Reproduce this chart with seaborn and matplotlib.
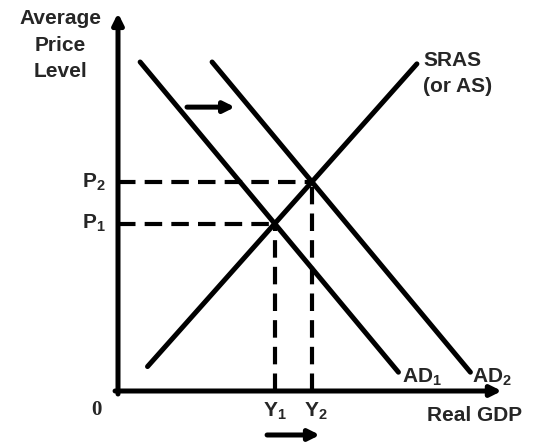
import numpy as np
import pandas as pd
import seaborn as sns
import matplotlib
matplotlib.use("Agg")
import matplotlib.pyplot as plt

# curve endpoints (quantity, price) in chart units 0-100
sras_q = [8, 81]
sras_p = [6.5, 87]
ad1_q = [6, 76]
ad1_p = [87.5, 5]
ad2_q = [25.5, 95.5]
ad2_p = [87.5, 5]

curve_names = ["SRAS", "AD1", "AD2"]


def intersect(q1, p1, q2, p2):
    m1 = (p1[1] - p1[0]) / (q1[1] - q1[0])
    m2 = (p2[1] - p2[0]) / (q2[1] - q2[0])
    b1 = p1[0] - m1 * q1[0]
    b2 = p2[0] - m2 * q2[0]
    q = (b2 - b1) / (m1 - m2)
    return q, m1 * q + b1


e1 = intersect(sras_q, sras_p, ad1_q, ad1_p)
e2 = intersect(sras_q, sras_p, ad2_q, ad2_p)

df = pd.concat([
    pd.DataFrame({"q": q, "p": p, "curve": name})
    for name, q, p in zip(curve_names, [sras_q, ad1_q, ad2_q], [sras_p, ad1_p, ad2_p])
])

sns.set_style("white")
plt.rcParams["font.family"] = ["Liberation Sans", "DejaVu Sans"]
plt.rcParams["font.weight"] = "bold"
plt.rcParams["mathtext.fontset"] = "custom"
plt.rcParams["mathtext.rm"] = "Liberation Sans:bold"
plt.rcParams["mathtext.it"] = "Liberation Sans:bold"
plt.rcParams["mathtext.bf"] = "Liberation Sans:bold"

fig = plt.figure(figsize=(5.42, 4.47), dpi=100)
ax = fig.add_axes([118 / 542, 56 / 447, 369 / 542, 376 / 447])

sns.lineplot(data=df, x="q", y="p", units="curve", estimator=None, sort=False,
             color="black", lw=3.6, ax=ax, legend=False)

# dashed guides to equilibria
for q, p in [e1, e2]:
    ax.plot([0, q], [p, p], color="black", lw=3, dashes=(4.2, 2.2))
    ax.plot([q, q], [0, p], color="black", lw=3, dashes=(4.2, 2.2))

ax.set_xlim(0, 100)
ax.set_ylim(0, 100)
ax.set_xlabel("")
ax.set_ylabel("")
ax.set_xticks([])
ax.set_yticks([])
sns.despine(ax=ax, left=True, bottom=True)

# axes with arrow heads
arrow = dict(arrowstyle="-|>", lw=3.6, color="black", mutation_scale=16,
             shrinkA=0, shrinkB=0)
ax.annotate("", xy=(104, 0), xytext=(-0.8, 0), arrowprops=arrow, annotation_clip=False)
ax.annotate("", xy=(0, 100.5), xytext=(0, -0.8), arrowprops=arrow, annotation_clip=False)

# shift arrows
ax.annotate("", xy=(31.7, 75.5), xytext=(18.7, 75.5), arrowprops=arrow, annotation_clip=False)
ax.annotate("", xy=(54.7, -11.7), xytext=(40.4, -11.7), arrowprops=arrow, annotation_clip=False)

fs = 15
ax.text(-15.7, 92, "Average\nPrice\nLevel", ha="center", va="center", fontsize=fs,
        linespacing=1.5, clip_on=False)
ax.text(82.7, 84.4, "SRAS\n(or AS)", ha="left", va="center", fontsize=fs,
        linespacing=1.5, clip_on=False)
ax.text(-3.3, e2[1], "P$_2$", ha="right", va="center", fontsize=fs, clip_on=False)
ax.text(-3.3, e1[1], "P$_1$", ha="right", va="center", fontsize=fs, clip_on=False)
ax.text(e1[0], -5.3, "Y$_1$", ha="center", va="center", fontsize=fs, clip_on=False)
ax.text(e2[0] + 1, -5.3, "Y$_2$", ha="center", va="center", fontsize=fs, clip_on=False)
ax.text(-5.96, -5.05, "0", ha="center", va="center", fontsize=fs, clip_on=False,
        family="Liberation Serif")
ax.text(96.7, -6.4, "Real GDP", ha="center", va="center", fontsize=fs, clip_on=False)
ax.text(77, 3.7, "AD$_1$", ha="left", va="center", fontsize=fs, clip_on=False)
ax.text(95.9, 3.7, "AD$_2$", ha="left", va="center", fontsize=fs, clip_on=False)

fig.savefig("out.png", dpi=100)
